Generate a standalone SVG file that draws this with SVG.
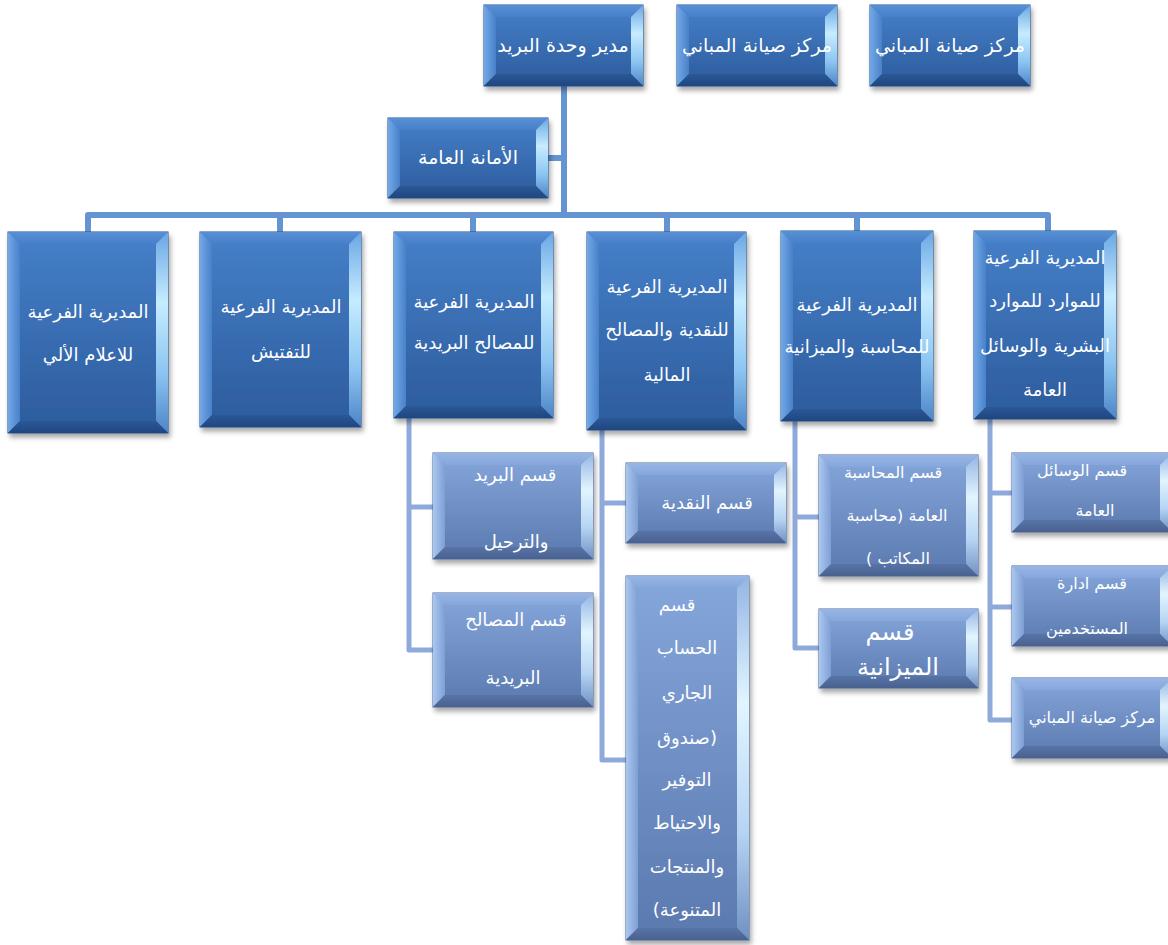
<svg xmlns="http://www.w3.org/2000/svg" width="1168" height="945" viewBox="0 0 1168 945">
<defs>
<linearGradient id="gDB" x1="0" y1="0" x2="0" y2="1"><stop offset="0" stop-color="#4680c9"/><stop offset="1" stop-color="#2c5b9c"/></linearGradient>
<linearGradient id="gDT" x1="0" y1="0" x2="0" y2="1"><stop offset="0" stop-color="#5890d6"/><stop offset="1" stop-color="#4680c9"/></linearGradient>
<linearGradient id="gDL" x1="0" y1="0" x2="1" y2="0"><stop offset="0" stop-color="#72a8e6"/><stop offset="1" stop-color="#4981c9"/></linearGradient>
<linearGradient id="gDR" x1="0" y1="0" x2="0" y2="1"><stop offset="0" stop-color="#6aa6e4"/><stop offset="0.35" stop-color="#c6ecff"/><stop offset="0.7" stop-color="#8cc5f2"/><stop offset="1" stop-color="#4d85c8"/></linearGradient>
<linearGradient id="gDBo" x1="0" y1="0" x2="0" y2="1"><stop offset="0" stop-color="#2b5896"/><stop offset="1" stop-color="#1f4680"/></linearGradient>
<linearGradient id="gLB" x1="0" y1="0" x2="0" y2="1"><stop offset="0" stop-color="#86a7dc"/><stop offset="1" stop-color="#5a79ae"/></linearGradient>
<linearGradient id="gLT" x1="0" y1="0" x2="0" y2="1"><stop offset="0" stop-color="#98b6e5"/><stop offset="1" stop-color="#86a7dc"/></linearGradient>
<linearGradient id="gLL" x1="0" y1="0" x2="1" y2="0"><stop offset="0" stop-color="#a9c7f0"/><stop offset="1" stop-color="#7f9fd4"/></linearGradient>
<linearGradient id="gLR" x1="0" y1="0" x2="0" y2="1"><stop offset="0" stop-color="#94b5e4"/><stop offset="0.35" stop-color="#e2f5ff"/><stop offset="0.7" stop-color="#b6d4f3"/><stop offset="1" stop-color="#7090c4"/></linearGradient>
<linearGradient id="gLBo" x1="0" y1="0" x2="0" y2="1"><stop offset="0" stop-color="#5874a7"/><stop offset="1" stop-color="#48618f"/></linearGradient>
<filter id="sh" x="-10%" y="-10%" width="125%" height="125%"><feDropShadow dx="2" dy="4" stdDeviation="2.5" flood-color="#000" flood-opacity="0.35"/></filter>
</defs>
<style>
.dbox{fill:url(#gDB);stroke:#234f8a;stroke-width:1;filter:url(#sh)}
.lbox{fill:url(#gLB);stroke:#4a6698;stroke-width:1;filter:url(#sh)}
.dt{fill:url(#gDT)} .dl{fill:url(#gDL)} .dr{fill:url(#gDR)} .db{fill:url(#gDBo)}
.lt{fill:url(#gLT)} .ll{fill:url(#gLL)} .lr{fill:url(#gLR)} .lb{fill:url(#gLBo)}
.c1{fill:none;stroke:#6594d2;stroke-width:6;stroke-linejoin:round}
.c2{fill:none;stroke:#8eaadb;stroke-width:5;stroke-linejoin:round}
text{font-family:"DejaVu Sans",sans-serif;fill:#ffffff;text-anchor:middle;direction:rtl;unicode-bidi:embed}
.t0{font-size:19px}
.t1{font-size:18px}
.t2{font-size:16px}
.t3{font-size:24px}
</style>
<rect width="1168" height="945" fill="#ffffff"/>

<g id="connectors">
<path class="c1" d="M564,86 V215 M548,158 H564 M88,232 V215 H1048 V231 M280,215 V232 M473,215 V232 M667,215 V232 M857,215 V231"/>
<path class="c2" d="M409,418 V650 H433 M409,507 H433 M602,430 V760 H626 M602,503 H626 M795,421 V648 H819 M795,517 H819 M990,419 V720 H1012 M990,493 H1012 M990,607 H1012"/>
</g>

<g id="top1">
<rect class="dbox" x="484" y="5" width="159" height="81"/>
<polygon class="dt" points="484,5 643,5 631,17 496,17"/>
<polygon class="dl" points="484,5 496,17 496,74 484,86"/>
<polygon class="dr" points="643,5 643,86 631,74 631,17"/>
<polygon class="db" points="484,86 643,86 631,74 496,74"/>
<text class="t0" x="563" y="52">مدير وحدة البريد</text>
</g>
<g id="top2">
<rect class="dbox" x="677" y="5" width="160" height="81"/>
<polygon class="dt" points="677,5 837,5 825,17 689,17"/>
<polygon class="dl" points="677,5 689,17 689,74 677,86"/>
<polygon class="dr" points="837,5 837,86 825,74 825,17"/>
<polygon class="db" points="677,86 837,86 825,74 689,74"/>
<text class="t0" x="757" y="52">مركز صيانة المباني</text>
</g>
<g id="top3">
<rect class="dbox" x="870" y="5" width="160" height="81"/>
<polygon class="dt" points="870,5 1030,5 1018,17 882,17"/>
<polygon class="dl" points="870,5 882,17 882,74 870,86"/>
<polygon class="dr" points="1030,5 1030,86 1018,74 1018,17"/>
<polygon class="db" points="870,86 1030,86 1018,74 882,74"/>
<text class="t0" x="950" y="52">مركز صيانة المباني</text>
</g>
<g id="secretariat">
<rect class="dbox" x="388" y="118" width="160" height="80"/>
<polygon class="dt" points="388,118 548,118 536,130 400,130"/>
<polygon class="dl" points="388,118 400,130 400,186 388,198"/>
<polygon class="dr" points="548,118 548,198 536,186 536,130"/>
<polygon class="db" points="388,198 548,198 536,186 400,186"/>
<text class="t0" x="468" y="164">الأمانة العامة</text>
</g>

<g id="dirA">
<rect class="dbox" x="8" y="232" width="160" height="201"/>
<polygon class="dt" points="8,232 168,232 156,244 20,244"/>
<polygon class="dl" points="8,232 20,244 20,421 8,433"/>
<polygon class="dr" points="168,232 168,433 156,421 156,244"/>
<polygon class="db" points="8,433 168,433 156,421 20,421"/>
<text class="t1" x="88" y="318">المديرية الفرعية</text>
<text class="t1" x="88" y="361">للاعلام الألي</text>
</g>
<g id="dirB">
<rect class="dbox" x="200" y="232" width="161" height="195"/>
<polygon class="dt" points="200,232 361,232 349,244 212,244"/>
<polygon class="dl" points="200,232 212,244 212,415 200,427"/>
<polygon class="dr" points="361,232 361,427 349,415 349,244"/>
<polygon class="db" points="200,427 361,427 349,415 212,415"/>
<text class="t1" x="281" y="313">المديرية الفرعية</text>
<text class="t1" x="281" y="358">للتفتيش</text>
</g>
<g id="dirC">
<rect class="dbox" x="394" y="232" width="159" height="186"/>
<polygon class="dt" points="394,232 553,232 541,244 406,244"/>
<polygon class="dl" points="394,232 406,244 406,406 394,418"/>
<polygon class="dr" points="553,232 553,418 541,406 541,244"/>
<polygon class="db" points="394,418 553,418 541,406 406,406"/>
<text class="t1" x="474" y="308">المديرية الفرعية</text>
<text class="t1" x="474" y="349">للمصالح البريدية</text>
</g>
<g id="dirD">
<rect class="dbox" x="587" y="232" width="159" height="198"/>
<polygon class="dt" points="587,232 746,232 734,244 599,244"/>
<polygon class="dl" points="587,232 599,244 599,418 587,430"/>
<polygon class="dr" points="746,232 746,430 734,418 734,244"/>
<polygon class="db" points="587,430 746,430 734,418 599,418"/>
<text class="t1" x="667" y="293">المديرية الفرعية</text>
<text class="t1" x="667" y="336">للنقدية والمصالح</text>
<text class="t1" x="667" y="381">المالية</text>
</g>
<g id="dirE">
<rect class="dbox" x="781" y="231" width="152" height="190"/>
<polygon class="dt" points="781,231 933,231 921,243 793,243"/>
<polygon class="dl" points="781,231 793,243 793,409 781,421"/>
<polygon class="dr" points="933,231 933,421 921,409 921,243"/>
<polygon class="db" points="781,421 933,421 921,409 793,409"/>
<text class="t1" x="857" y="311">المديرية الفرعية</text>
<text class="t1" x="857" y="353">للمحاسبة والميزانية</text>
</g>
<g id="dirF">
<rect class="dbox" x="974" y="231" width="142" height="188"/>
<polygon class="dt" points="974,231 1116,231 1104,243 986,243"/>
<polygon class="dl" points="974,231 986,243 986,407 974,419"/>
<polygon class="dr" points="1116,231 1116,419 1104,407 1104,243"/>
<polygon class="db" points="974,419 1116,419 1104,407 986,407"/>
<text class="t1" x="1045" y="264">المديرية الفرعية</text>
<text class="t1" x="1045" y="307">للموارد للموارد</text>
<text class="t1" x="1045" y="352">البشرية والوسائل</text>
<text class="t1" x="1045" y="396">العامة</text>
</g>

<g id="subC1">
<rect class="lbox" x="433" y="453" width="160" height="106"/>
<polygon class="lt" points="433,453 593,453 581,465 445,465"/>
<polygon class="ll" points="433,453 445,465 445,547 433,559"/>
<polygon class="lr" points="593,453 593,559 581,547 581,465"/>
<polygon class="lb" points="433,559 593,559 581,547 445,547"/>
<text class="t1" x="515" y="481">قسم البريد</text>
<text class="t1" x="516" y="548">والترحيل</text>
</g>
<g id="subC2">
<rect class="lbox" x="433" y="593" width="160" height="114"/>
<polygon class="lt" points="433,593 593,593 581,605 445,605"/>
<polygon class="ll" points="433,593 445,605 445,695 433,707"/>
<polygon class="lr" points="593,593 593,707 581,695 581,605"/>
<polygon class="lb" points="433,707 593,707 581,695 445,695"/>
<text class="t1" x="516" y="626">قسم المصالح</text>
<text class="t1" x="513" y="684">البريدية</text>
</g>
<g id="subD1">
<rect class="lbox" x="626" y="463" width="160" height="80"/>
<polygon class="lt" points="626,463 786,463 774,475 638,475"/>
<polygon class="ll" points="626,463 638,475 638,531 626,543"/>
<polygon class="lr" points="786,463 786,543 774,531 774,475"/>
<polygon class="lb" points="626,543 786,543 774,531 638,531"/>
<text class="t1" x="707" y="509">قسم النقدية</text>
</g>
<g id="subD2">
<rect class="lbox" x="626" y="576" width="123" height="364"/>
<polygon class="lt" points="626,576 749,576 737,588 638,588"/>
<polygon class="ll" points="626,576 638,588 638,928 626,940"/>
<polygon class="lr" points="749,576 749,940 737,928 737,588"/>
<polygon class="lb" points="626,940 749,940 737,928 638,928"/>
<text class="t1" x="677" y="611">قسم</text>
<text class="t1" x="687" y="654">الحساب</text>
<text class="t1" x="687" y="699">الجاري</text>
<text class="t1" x="687" y="744">(صندوق</text>
<text class="t1" x="687" y="786">التوفير</text>
<text class="t1" x="687" y="829">والاحتياط</text>
<text class="t1" x="687" y="873">والمنتجات</text>
<text class="t1" x="687" y="916">المتنوعة)</text>
</g>
<g id="subE1">
<rect class="lbox" x="819" y="455" width="159" height="121"/>
<polygon class="lt" points="819,455 978,455 966,467 831,467"/>
<polygon class="ll" points="819,455 831,467 831,564 819,576"/>
<polygon class="lr" points="978,455 978,576 966,564 966,467"/>
<polygon class="lb" points="819,576 978,576 966,564 831,564"/>
<text class="t2" x="893" y="478">قسم المحاسبة</text>
<text class="t2" x="897" y="521">العامة (محاسبة</text>
<text class="t2" x="898" y="564">المكاتب )</text>
</g>
<g id="subE2">
<rect class="lbox" x="819" y="609" width="159" height="79"/>
<polygon class="lt" points="819,609 978,609 966,621 831,621"/>
<polygon class="ll" points="819,609 831,621 831,676 819,688"/>
<polygon class="lr" points="978,609 978,688 966,676 966,621"/>
<polygon class="lb" points="819,688 978,688 966,676 831,676"/>
<text class="t3" x="890" y="640">قسم</text>
<text class="t3" x="898" y="675">الميزانية</text>
</g>
<g id="subF1">
<rect class="lbox" x="1012" y="453" width="160" height="79"/>
<polygon class="lt" points="1012,453 1172,453 1160,465 1024,465"/>
<polygon class="ll" points="1012,453 1024,465 1024,520 1012,532"/>
<polygon class="lr" points="1172,453 1172,532 1160,520 1160,465"/>
<polygon class="lb" points="1012,532 1172,532 1160,520 1024,520"/>
<text class="t2" x="1082" y="476">قسم الوسائل</text>
<text class="t2" x="1095" y="516">العامة</text>
</g>
<g id="subF2">
<rect class="lbox" x="1012" y="566" width="160" height="80"/>
<polygon class="lt" points="1012,566 1172,566 1160,578 1024,578"/>
<polygon class="ll" points="1012,566 1024,578 1024,634 1012,646"/>
<polygon class="lr" points="1172,566 1172,646 1160,634 1160,578"/>
<polygon class="lb" points="1012,646 1172,646 1160,634 1024,634"/>
<text class="t2" x="1092" y="589">قسم ادارة</text>
<text class="t2" x="1087" y="634">المستخدمين</text>
</g>
<g id="subF3">
<rect class="lbox" x="1012" y="678" width="160" height="80"/>
<polygon class="lt" points="1012,678 1172,678 1160,690 1024,690"/>
<polygon class="ll" points="1012,678 1024,690 1024,746 1012,758"/>
<polygon class="lr" points="1172,678 1172,758 1160,746 1160,690"/>
<polygon class="lb" points="1012,758 1172,758 1160,746 1024,746"/>
<text class="t2" x="1092" y="723">مركز صيانة المباني</text>
</g>
</svg>
